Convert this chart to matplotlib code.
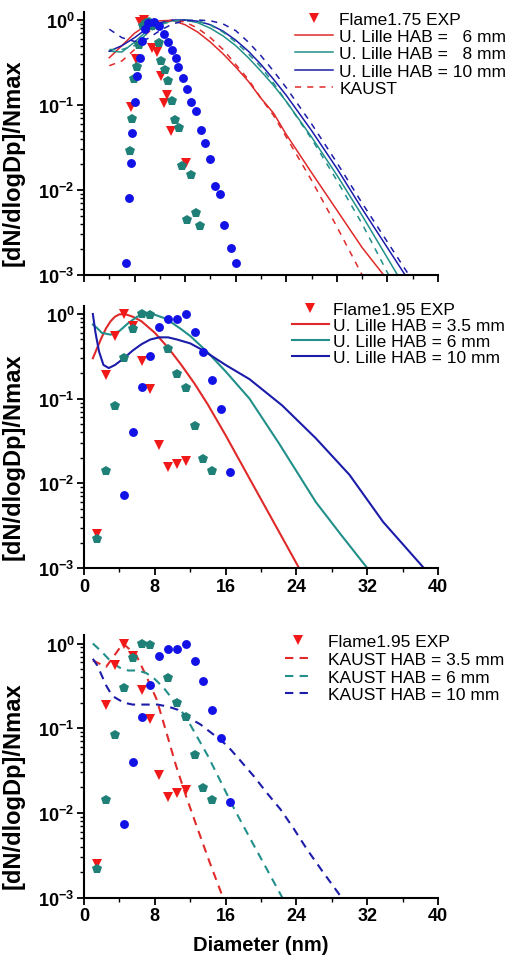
import numpy as np
import matplotlib.pyplot as plt
from matplotlib.ticker import MultipleLocator, FuncFormatter, LogLocator, NullFormatter

plt.rcParams['font.family'] = ['Liberation Sans', 'DejaVu Sans']
plt.rcParams['mathtext.fontset'] = 'custom'
plt.rcParams['mathtext.rm'] = 'Liberation Sans:bold'
plt.rcParams['mathtext.bf'] = 'Liberation Sans:bold'

# ---------- panel 1 : Flame 1.75 ----------
f175_tri_d = [1.85, 2.05, 2.2, 2.37, 2.68, 2.87, 3.04, 3.17, 3.27, 3.46, 4.05]
f175_tri_v = [0.094, 0.35, 0.94, 1.0, 0.47, 0.42, 0.22, 0.107, 0.13, 0.05, 0.021]
f175_pen_d = [1.83, 1.89, 1.98, 2.09, 2.18, 2.33, 2.44, 2.56, 2.67, 2.95, 3.04, 3.19,
              3.32, 3.48, 3.6, 3.75, 3.89, 4.06, 4.22, 4.42, 4.59]
f175_pen_v = [0.029, 0.069, 0.2, 0.28, 0.51, 0.85, 0.92, 0.95, 0.86, 0.53, 0.33, 0.26,
              0.19, 0.112, 0.066, 0.054, 0.019, 0.0044, 0.015, 0.0053, 0.0038]
f175_cir_d = [1.68, 1.76, 1.84, 1.89, 2.0, 2.1, 2.2, 2.31, 2.43, 2.54, 2.75, 2.96, 3.17,
              3.32, 3.47, 3.63, 3.72, 3.93, 4.09, 4.25, 4.42, 4.61, 4.77, 4.97, 5.17,
              5.37, 5.55, 5.81, 6.03]
f175_cir_v = [0.0014, 0.008, 0.021, 0.047, 0.11, 0.22, 0.36, 0.56, 0.78, 0.92, 0.95, 0.85,
              0.68, 0.55, 0.45, 0.36, 0.28, 0.21, 0.155, 0.108, 0.085, 0.051, 0.036, 0.023,
              0.011, 0.009, 0.0039, 0.0021, 0.0014]

lille175_d = [1, 1.5, 2, 2.5, 3, 3.5, 4, 4.5, 5, 5.5, 6, 6.5, 7, 7.5, 8, 9, 10, 11]
lille6_v = [0.36, 0.5, 0.7, 0.88, 0.98, 0.99, 0.88, 0.72, 0.55, 0.4, 0.28, 0.19, 0.12,
            0.08, 0.045, 0.016, 0.0058, 0.0021]
lille8_v = [0.43, 0.42, 0.55, 0.75, 0.9, 0.98, 1.0, 0.93, 0.8, 0.65, 0.5, 0.36, 0.25,
            0.17, 0.11, 0.042, 0.015, 0.005]
lille10_v = [0.43, 0.5, 0.62, 0.8, 0.93, 1.0, 1.0, 0.97, 0.88, 0.74, 0.58, 0.43, 0.3,
             0.2, 0.13, 0.05, 0.018, 0.006]
lille_end_d = [11.85, 12.4, 12.7]
kaust175_red_v = [0.29, 0.33, 0.45, 0.7, 0.92, 1.0, 0.95, 0.8, 0.62, 0.45, 0.3, 0.2,
                  0.12, 0.075, 0.042, 0.013, 0.0037, 0.001]
kaust175_teal_v = [0.45, 0.45, 0.5, 0.7, 0.88, 0.97, 1.0, 0.97, 0.87, 0.72, 0.55, 0.4,
                   0.28, 0.18, 0.11, 0.04, 0.013, 0.004]
kaust175_blue_v = [0.78, 0.62, 0.56, 0.6, 0.75, 0.9, 0.98, 1.0, 0.98, 0.9, 0.75, 0.55,
                   0.38, 0.25, 0.16, 0.06, 0.021, 0.007]
kaust_end_d = [11.05, 12.05, 12.85]

# ---------- panels 2 & 3 : Flame 1.95 ----------
f195_tri_d = [1.5, 2.5, 3.5, 4.5, 5.5, 6.5, 7.5, 8.5, 9.5, 10.5, 11.5]
f195_tri_v = [0.0025, 0.19, 0.55, 1.0, 0.72, 0.28, 0.13, 0.028, 0.0155, 0.017, 0.0185]
f195_pen_d = [1.5, 2.5, 3.5, 4.5, 5.5, 6.5, 7.5, 9.5, 10.5, 11.5, 12.5, 13.5, 14.5]
f195_pen_v = [0.0022, 0.014, 0.082, 0.30, 0.67, 1.0, 0.97, 0.39, 0.197, 0.134, 0.048,
              0.0194, 0.014]
f195_cir_d = [4.5, 5.5, 6.5, 7.5, 8.5, 9.5, 10.5, 11.5, 12.5, 13.5, 14.5, 15.5, 16.5]
f195_cir_v = [0.0073, 0.040, 0.137, 0.32, 0.71, 0.87, 0.87, 1.0, 0.62, 0.36, 0.164,
              0.076, 0.0135]

lille35_d = [1, 1.5, 2, 2.5, 3, 3.5, 4, 4.6, 5.5, 6.5, 8, 9.5, 11, 12.5, 14, 16, 18.7, 21, 24.3]
lille35_v = [0.30, 0.40, 0.53, 0.68, 0.82, 0.93, 0.99, 1.0, 0.93, 0.82, 0.6, 0.4, 0.25,
             0.15, 0.085, 0.037, 0.0114, 0.0042, 0.001]
lille6b_d = [1, 1.5, 2, 3, 4, 5, 6, 7, 8, 9, 10, 11, 12, 13, 14, 16, 18.7, 22, 26.2, 29, 32]
lille6b_v = [0.75, 0.68, 0.6, 0.57, 0.63, 0.78, 0.93, 1.0, 0.98, 0.9, 0.78, 0.66, 0.55,
             0.44, 0.35, 0.21, 0.1, 0.03, 0.006, 0.0025, 0.001]
lille10b_d = [1, 1.3, 1.7, 2.2, 2.8, 3.5, 4.5, 5.5, 6.5, 7.5, 8.5, 9.5, 10.5, 12, 13.5,
              16, 18.7, 22.4, 26.2, 30, 33.8, 38.4]
lille10b_v = [1.0, 0.6, 0.36, 0.25, 0.23, 0.25, 0.3, 0.37, 0.44, 0.5, 0.53, 0.53, 0.5,
              0.45, 0.37, 0.25, 0.17, 0.083, 0.034, 0.0126, 0.0035, 0.001]

kaust35_d = [1, 2.5, 4.4, 5.9, 7.0, 8.2, 9.3, 10.4, 11.6, 12.7, 14.2, 15.7]
kaust35_v = [0.63, 0.53, 1.0, 0.73, 0.42, 0.22, 0.09, 0.036, 0.015, 0.0071, 0.0026, 0.001]
kaust6_d = [1, 2, 3, 4, 5, 6, 7, 8, 9, 10, 11, 12, 13, 14, 15, 17, 19, 22.4]
kaust6_v = [1.0, 0.8, 0.62, 0.52, 0.48, 0.48, 0.45, 0.38, 0.3, 0.22, 0.16, 0.11, 0.072,
            0.047, 0.029, 0.011, 0.0045, 0.001]
kaust10_d = [1, 1.5, 2, 2.5, 3, 3.5, 4.5, 5.5, 7, 8.3, 9.5, 10.6, 12, 13.2, 14.7, 16.2,
             17.7, 19.2, 20.7, 22.2, 23.7, 25.2, 27, 29.1]
kaust10_v = [0.66, 0.55, 0.42, 0.32, 0.26, 0.23, 0.2, 0.19, 0.19, 0.19, 0.18, 0.165, 0.13,
             0.11, 0.083, 0.062, 0.041, 0.027, 0.017, 0.011, 0.0065, 0.0037, 0.002, 0.001]

RED, TEAL, BLUE = '#f01818', '#1f8078', '#1212e6'
LRED, LTEAL, LBLUE = '#e02a2a', '#22908a', '#1c1caa'

fig = plt.figure(figsize=(5.1, 9.62), dpi=100)
W, H = 510.0, 962.0


def make_ax(top_px, bot_px):
    return fig.add_axes([84 / W, (H - bot_px) / H, 354 / W, (bot_px - top_px) / H])


ax1 = make_ax(12.8, 276)
ax2 = make_ax(306.8, 569)
ax3 = make_ax(636.3, 898.5)


def exp_points(ax, td, tv, pd_, pv, cd, cv, label):
    ax.plot(td, tv, 'v', color=RED, ms=7, mew=0, label=label, zorder=4)
    ax.plot(pd_, pv, 'p', color=TEAL, ms=7.5, mew=0, zorder=4)
    ax.plot(cd, cv, 'o', color=BLUE, ms=6.4, mew=0, zorder=4)


# panel 1
exp_points(ax1, f175_tri_d, f175_tri_v, f175_pen_d, f175_pen_v, f175_cir_d, f175_cir_v,
           'Flame1.75 EXP')
ax1.plot(lille175_d + [lille_end_d[0]], lille6_v + [0.001], color=LRED, lw=1.1,
         label='U. Lille HAB =   6 mm')
ax1.plot(lille175_d + [lille_end_d[1]], lille8_v + [0.001], color=LTEAL, lw=1.1,
         label='U. Lille HAB =   8 mm')
ax1.plot(lille175_d + [lille_end_d[2]], lille10_v + [0.001], color=LBLUE, lw=1.1,
         label='U. Lille HAB = 10 mm')
ax1.plot(lille175_d, kaust175_red_v, color=LRED, lw=1.1, dashes=(4, 4), label='KAUST')
ax1.plot(lille175_d + [kaust_end_d[1]], kaust175_teal_v + [0.001], color=LTEAL, lw=1.1,
         dashes=(4, 4))
ax1.plot(lille175_d + [kaust_end_d[2]], kaust175_blue_v + [0.001], color=LBLUE, lw=1.1,
         dashes=(4, 4))

# panel 2
exp_points(ax2, f195_tri_d, f195_tri_v, f195_pen_d, f195_pen_v, f195_cir_d, f195_cir_v,
           'Flame1.95 EXP')
ax2.plot(lille35_d, lille35_v, color=LRED, lw=1.5, label='U. Lille HAB = 3.5 mm')
ax2.plot(lille6b_d, lille6b_v, color=LTEAL, lw=1.5, label='U. Lille HAB = 6 mm')
ax2.plot(lille10b_d, lille10b_v, color=LBLUE, lw=1.5, label='U. Lille HAB = 10 mm')

# panel 3
exp_points(ax3, f195_tri_d, f195_tri_v, f195_pen_d, f195_pen_v, f195_cir_d, f195_cir_v,
           'Flame1.95 EXP')
ax3.plot(kaust35_d, kaust35_v, color=LRED, lw=1.5, dashes=(4, 3), label='KAUST HAB = 3.5 mm')
ax3.plot(kaust6_d, kaust6_v, color=LTEAL, lw=1.5, dashes=(4, 3), label='KAUST HAB = 6 mm')
ax3.plot(kaust10_d, kaust10_v, color=LBLUE, lw=1.5, dashes=(4, 3), label='KAUST HAB = 10 mm')

fmt = FuncFormatter(lambda v, p: r'$\mathbf{10^{%d}}$' % int(round(np.log10(v))))

for ax in (ax1, ax2, ax3):
    ax.set_yscale('log')
    ax.set_ylim(1e-3, 1.25)
    ax.yaxis.set_major_locator(LogLocator(base=10, numticks=10))
    ax.yaxis.set_minor_locator(LogLocator(base=10, subs=np.arange(2, 10), numticks=10))
    ax.yaxis.set_major_formatter(fmt)
    ax.yaxis.set_minor_formatter(NullFormatter())
    for s in ('top', 'right'):
        ax.spines[s].set_visible(False)
    for s in ('left', 'bottom'):
        ax.spines[s].set_linewidth(1.5)
    ax.tick_params(which='major', direction='out', length=5, width=1.3, labelsize=13, pad=2)
    ax.tick_params(which='minor', direction='out', length=3, width=1.0)
    ax.set_ylabel('[dN/dlogDp]/Nmax', fontsize=17, fontweight='bold')
    ax.yaxis.set_label_coords(-0.167, 0.43)

ax1.set_xlim(0, 14)
ax1.xaxis.set_major_locator(MultipleLocator(2))
ax1.xaxis.set_minor_locator(MultipleLocator(1))
ax1.tick_params(axis='x', labelbottom=False)

for ax in (ax2, ax3):
    ax.set_xlim(0, 40)
    ax.xaxis.set_major_locator(MultipleLocator(8))
    ax.xaxis.set_minor_locator(MultipleLocator(4))
    ax.xaxis.set_major_formatter(FuncFormatter(lambda v, p: '%d' % v))
    for t in ax.get_xticklabels():
        t.set_fontweight('bold')

ax3.set_xlabel('Diameter (nm)', fontsize=14.5, fontweight='bold', labelpad=8)

leg_kw = dict(frameon=False, fontsize=12.5, borderpad=0, borderaxespad=0, loc='upper left')
ax1.legend(bbox_to_anchor=(0.596, 1.0), handlelength=2.2, handletextpad=0.35,
           labelspacing=0.12, **leg_kw)
ax2.legend(bbox_to_anchor=(0.588, 1.014), handlelength=2.1, handletextpad=0.25,
           labelspacing=0.05, **leg_kw)
ax3.legend(bbox_to_anchor=(0.568, 1.005), handlelength=1.5, handletextpad=1.0,
           labelspacing=0.15, **leg_kw)

fig.savefig('out.png', dpi=100)
